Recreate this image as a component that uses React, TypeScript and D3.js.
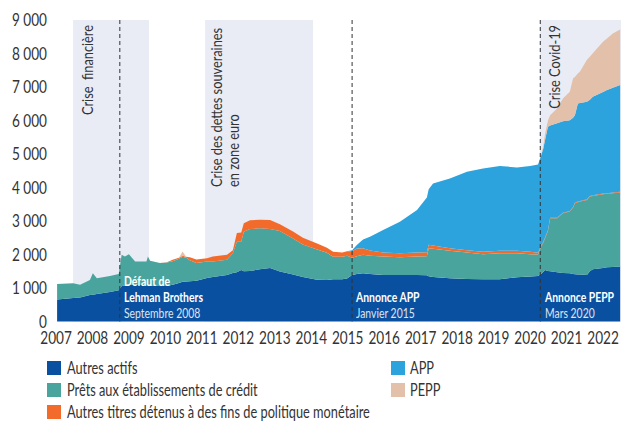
import React from "react";
import * as d3 from "d3";

const years = [
  2007.03, 2007.47, 2007.66, 2007.93, 2008.01, 2008.12, 2008.48, 2008.72, 2008.8, 2008.89,
  2009.0, 2009.17, 2009.48, 2009.52, 2009.58, 2009.85, 2010.04, 2010.2, 2010.37, 2010.47,
  2010.57, 2010.67, 2010.85, 2011.14, 2011.3, 2011.69, 2011.85, 2011.96, 2012.08, 2012.15,
  2012.32, 2012.59, 2012.87, 2013.14, 2013.5, 2013.77, 2014.16, 2014.43, 2014.6, 2014.85,
  2014.98, 2015.12, 2015.25, 2015.42, 2015.61, 2015.97, 2016.43, 2016.9, 2017.17, 2017.22,
  2017.34, 2017.8, 2018.27, 2018.71, 2019.17, 2019.64, 2020.0, 2020.22, 2020.3, 2020.36,
  2020.41, 2020.49, 2020.55, 2020.74, 2020.9, 2021.09, 2021.18, 2021.23, 2021.31, 2021.37,
  2021.56, 2021.64, 2021.72, 2022.0, 2022.11, 2022.27, 2022.47,
];

const autresActifs = [
  660, 700, 720, 790, 800, 820, 880, 930, 1050, 1080,
  1100, 1100, 1080, 1080, 1070, 1060, 1060, 1100, 1150, 1190,
  1195, 1200, 1220, 1300, 1330, 1390, 1450, 1470, 1540, 1500,
  1510, 1560, 1600, 1490, 1400, 1330, 1250, 1240, 1260, 1260,
  1280, 1390, 1420, 1440, 1420, 1390, 1390, 1390, 1380, 1350,
  1330, 1290, 1270, 1260, 1260, 1320, 1340, 1360, 1420, 1480,
  1540, 1510, 1500, 1470, 1450, 1440, 1420, 1410, 1400, 1400,
  1390, 1500, 1560, 1600, 1620, 1630, 1640,
];

const prets = [
  460, 440, 380, 450, 640, 470, 480, 490, 940, 860,
  910, 690, 710, 860, 740, 685, 700, 700, 720, 740,
  705, 630, 530, 490, 460, 450, 590, 910, 840, 1180,
  1250, 1220, 1160, 1210, 1080, 970, 900, 810, 670, 670,
  680, 510, 530, 550, 540, 550, 530, 550, 570, 840,
  840, 820, 790, 750, 780, 720, 670, 640, 810, 870,
  940, 1190, 1580, 1610, 1780, 1840, 1980, 2120, 2160, 2180,
  2240, 2230, 2190, 2200, 2190, 2200, 2210,
];

const autresTitres = [
  0, 0, 0, 0, 0, 0, 0, 0, 0, 0,
  0, 0, 0, 0, 0, 0, 10, 40, 30, 30,
  30, 90, 100, 100, 150, 150, 90, 260, 280, 250,
  260, 260, 270, 200, 210, 200, 180, 150, 150, 130,
  140, 200, 230, 200, 160, 120, 120, 120, 120, 100,
  100, 80, 70, 70, 70, 70, 70, 50, 30, 30,
  30, 30, 20, 20, 20, 20, 20, 20, 20, 20,
  20, 20, 20, 20, 20, 20, 20,
];

const app = [
  0, 0, 0, 0, 0, 0, 0, 0, 0, 0,
  0, 0, 0, 0, 0, 0, 0, 0, 0, 0,
  0, 0, 0, 0, 0, 0, 0, 0, 0, 0,
  0, 0, 0, 0, 0, 0, 0, 0, 0, 0,
  0, 30, 100, 260, 410, 670, 940, 1270, 1630, 1660,
  1850, 2080, 2340, 2490, 2530, 2490, 2560, 2640, 2690, 2770,
  2910, 3080, 2750, 2820, 2730, 2710, 2660, 2610, 2930, 2920,
  2910, 2870, 2940, 3030, 3080, 3130, 3190,
];

const pepp = [
  0, 0, 0, 0, 0, 0, 0, 0, 0, 0,
  0, 0, 0, 0, 0, 0, 0, 0, 0, 130,
  0, 0, 0, 0, 0, 0, 0, 0, 0, 0,
  0, 0, 0, 0, 0, 0, 0, 0, 0, 0,
  0, 0, 0, 0, 0, 0, 0, 0, 0, 0,
  0, 0, 0, 0, 0, 0, 0, 0, 10, 70,
  180, 190, 310, 440, 680, 850, 1180, 1140, 890, 940,
  1250, 1280, 1300, 1500, 1540, 1620, 1660,
];

const seriesNames = [
  "Autres actifs",
  "Prêts aux établissements de crédit",
  "Autres titres détenus à des fins de politique monétaire",
  "APP",
  "PEPP",
];
const seriesColors = ["#0A50A1", "#4AA49E", "#F26B2A", "#2CA3DD", "#E2C0AA"];

const yTicks = [0, 1000, 2000, 3000, 4000, 5000, 6000, 7000, 8000, 9000];
const xTicks = [2007, 2008, 2009, 2010, 2011, 2012, 2013, 2014, 2015, 2016, 2017, 2018, 2019, 2020, 2021, 2022];

const crisisBands = [
  { start: 2007.47, end: 2009.55 },
  { start: 2011.09, end: 2014.05 },
  { start: 2020.27, end: 2022.5 },
];
const eventLines = [2008.75, 2015.12, 2020.28];

const FONT = "Lato, 'Open Sans', sans-serif";
const TEXT = "#333333";

const fmt = (v: number) => d3.format(",")(v).replace(/,/g, " ");

function CText(props: {
  x: number;
  y: number;
  size: number;
  anchor?: string;
  weight?: string | number;
  fill?: string;
  rotate?: number;
  opacity?: number;
  sx?: number;
  children: React.ReactNode;
}) {
  const { x, y, size, anchor = "start", weight = 400, fill = TEXT, rotate = 0, opacity = 1, sx = 0.8 } = props;
  return (
    <text
      transform={`translate(${x},${y}) rotate(${rotate}) scale(${sx},1)`}
      fontFamily={FONT}
      fontSize={size}
      fontWeight={weight}
      textAnchor={anchor}
      fill={fill}
      opacity={opacity}
    >
      {props.children}
    </text>
  );
}

export default function App() {
  const W = 621;
  const H = 422;
  const x = d3.scaleLinear().domain([2007, 2022]).range([56, 603]);
  const y = d3.scaleLinear().domain([0, 9000]).range([321.5, 20]);

  const rows = years.map((yr, i) => ({
    year: yr,
    s0: autresActifs[i],
    s1: prets[i],
    s2: autresTitres[i],
    s3: app[i],
    s4: pepp[i],
  }));
  const keys = ["s0", "s1", "s2", "s3", "s4"];
  const stacked = d3.stack<any>().keys(keys)(rows);
  const area = d3
    .area<any>()
    .x((d) => x(d.data.year))
    .y0((d) => y(d[0]))
    .y1((d) => y(d[1]));

  return (
    <svg
      width={W}
      height={H}
      style={{ position: "absolute", left: 0, top: 0, background: "#fff" }}
    >
      {crisisBands.map((b, i) => (
        <rect
          key={"band" + i}
          x={x(b.start)}
          y={y(9000)}
          width={Math.min(x(b.end), W) - x(b.start)}
          height={y(0) - y(9000)}
          fill="#E9EBF5"
        />
      ))}

      {stacked.map((layer, i) => (
        <path key={"layer" + i} d={area(layer) || ""} fill={seriesColors[i]} />
      ))}

      {eventLines.map((e, i) => (
        <line
          key={"ev" + i}
          x1={x(e)}
          x2={x(e)}
          y1={y(9000)}
          y2={y(0)}
          stroke="#333"
          strokeWidth={1}
          strokeDasharray="4,3"
        />
      ))}

      {yTicks.map((t) => (
        <CText key={"yt" + t} x={47} y={y(t) + 6} size={17} anchor="end">
          {fmt(t)}
        </CText>
      ))}
      {xTicks.map((t) => (
        <CText key={"xt" + t} x={x(t)} y={344} size={17} anchor="middle">
          {t}
        </CText>
      ))}

      <CText x={93} y={25} size={16} anchor="end" rotate={-90}>
        {"Crise\u00a0 financière"}
      </CText>
      <CText x={222} y={187} size={16} anchor="start" rotate={-90}>
        Crise des dettes souveraines
      </CText>
      <CText x={239} y={187} size={16} anchor="start" rotate={-90}>
        en zone euro
      </CText>
      <CText x={560} y={25} size={16} anchor="end" rotate={-90}>
        Crise Covid-19
      </CText>

      <CText x={124} y={286} size={13} weight={700} fill="#fff">
        Défaut de
      </CText>
      <CText x={124} y={302} size={13} weight={700} fill="#fff">
        Lehman Brothers
      </CText>
      <CText x={124} y={318} size={13} fill="#fff" opacity={0.85}>
        Septembre 2008
      </CText>
      <CText x={356} y={302} size={13} weight={700} fill="#fff">
        Annonce APP
      </CText>
      <CText x={356} y={318} size={13} fill="#fff" opacity={0.85}>
        Janvier 2015
      </CText>
      <CText x={545} y={302} size={13} weight={700} fill="#fff">
        Annonce PEPP
      </CText>
      <CText x={545} y={318} size={13} fill="#fff" opacity={0.85}>
        Mars 2020
      </CText>

      {[0, 1, 2].map((i) => (
        <g key={"lg" + i}>
          <rect x={47} y={361 + i * 22} width={14} height={14} fill={seriesColors[i]} />
          <CText x={67} y={374 + i * 22} size={17} sx={0.752}>
            {seriesNames[i]}
          </CText>
        </g>
      ))}
      {[3, 4].map((i, j) => (
        <g key={"lg" + i}>
          <rect x={391} y={361 + j * 22} width={14} height={14} fill={seriesColors[i]} />
          <CText x={410} y={374 + j * 22} size={17} sx={0.752}>
            {seriesNames[i]}
          </CText>
        </g>
      ))}
    </svg>
  );
}
